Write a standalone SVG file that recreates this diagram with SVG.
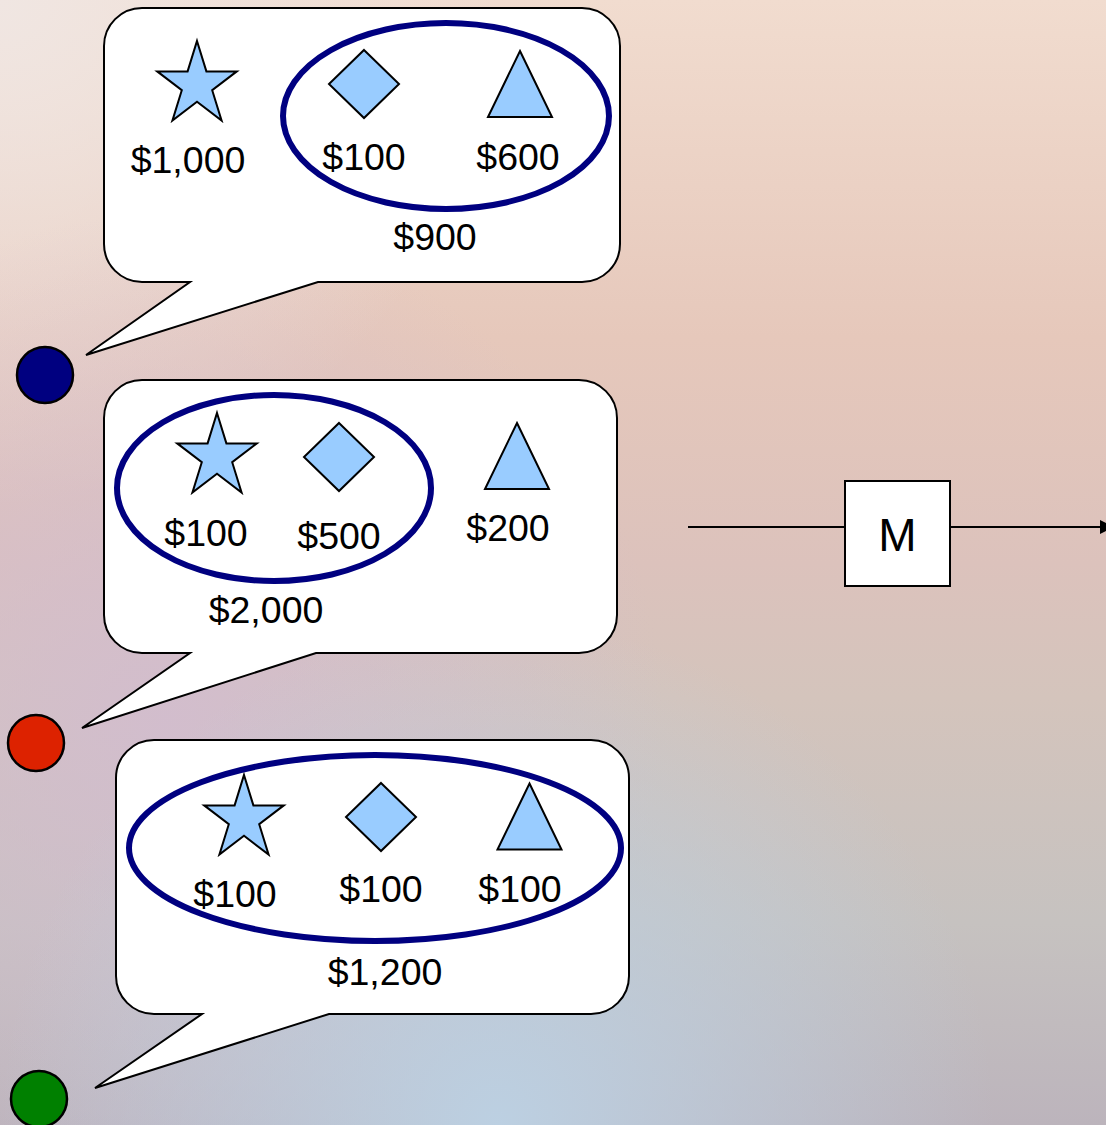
<svg xmlns="http://www.w3.org/2000/svg" width="1106" height="1125" viewBox="0 0 1106 1125">
  <defs>
    <linearGradient id="bgV" x1="0" y1="0" x2="0" y2="1">
      <stop offset="0" stop-color="#f1dccf"/>
      <stop offset="0.3" stop-color="#e6c8bb"/>
      <stop offset="0.5" stop-color="#dcc2bc"/>
      <stop offset="0.62" stop-color="#d4c4bc"/>
      <stop offset="0.82" stop-color="#c6c2c0"/>
      <stop offset="1" stop-color="#bcb4bc"/>
    </linearGradient>
    <radialGradient id="tintTL" cx="0" cy="0" r="0.45">
      <stop offset="0" stop-color="#f0e6e2" stop-opacity="1"/>
      <stop offset="1" stop-color="#f0e6e2" stop-opacity="0"/>
    </radialGradient>
    <radialGradient id="tintMid" cx="0.15" cy="0.64" r="0.45">
      <stop offset="0" stop-color="#d2bcd0" stop-opacity="0.85"/>
      <stop offset="1" stop-color="#d2bcd0" stop-opacity="0"/>
    </radialGradient>
    <radialGradient id="tintBL" cx="0.45" cy="1" r="0.45">
      <stop offset="0" stop-color="#bcd0e2" stop-opacity="1"/>
      <stop offset="1" stop-color="#bcd0e2" stop-opacity="0"/>
    </radialGradient>
    <path id="star" d="M0,-44 L9.4,-13.59 L39.8,-13.6 L15.2,5.19 L24.6,35.6 L0,16.8 L-24.6,35.6 L-15.2,5.19 L-39.8,-13.6 L-9.4,-13.59 Z"/>
    <path id="diamond" d="M0,-34 L35,0 L0,34 L-35,0 Z"/>
    <path id="triangle" d="M0,-33 L32,33 L-32,33 Z"/>
    <marker id="arrow" viewBox="0 0 10 10" refX="10" refY="5" markerWidth="7" markerHeight="7" markerUnits="strokeWidth" orient="auto">
      <path d="M0,0 L10,5 L0,10 Z" fill="#000"/>
    </marker>
    <style>
      .bubble { fill: #ffffff; stroke: #000000; stroke-width: 2; stroke-linejoin: miter; }
      .shape { fill: #99ccff; stroke: #000000; stroke-width: 2; stroke-linejoin: miter; }
      .group { fill: none; stroke: #000080; stroke-width: 6; }
      .label { font-family: "Liberation Sans", Arial, sans-serif; font-size: 37.5px; fill: #000; text-anchor: middle; }
      .dot { stroke: #000; stroke-width: 2.5; }
      .edge { stroke: #000; stroke-width: 2; fill: none; }
    </style>
  </defs>

  <!-- background -->
  <rect x="0" y="0" width="1106" height="1125" fill="url(#bgV)"/>
  <rect x="0" y="0" width="1106" height="1125" fill="url(#tintTL)"/>
  <rect x="0" y="0" width="1106" height="1125" fill="url(#tintMid)"/>
  <rect x="0" y="0" width="1106" height="1125" fill="url(#tintBL)"/>

  <!-- first speech bubble -->
  <g id="bubble-1">
    <path class="bubble" d="M142,8 H582 A38,38 0 0 1 620,46 V244 A38,38 0 0 1 582,282 H318 L86,355 L190,282 H142 A38,38 0 0 1 104,244 V46 A38,38 0 0 1 142,8 Z"/>
    <use href="#star" class="shape" transform="translate(197,85)"/>
    <use href="#diamond" class="shape" transform="translate(364,84)"/>
    <use href="#triangle" class="shape" transform="translate(520,84)"/>
    <ellipse class="group" cx="446" cy="116" rx="163" ry="93"/>
    <text class="label" x="188" y="173">$1,000</text>
    <text class="label" x="364" y="170">$100</text>
    <text class="label" x="518" y="170">$600</text>
    <text class="label" x="435" y="250">$900</text>
  </g>
  <g id="dot-1"><circle class="dot" cx="45" cy="375" r="28" fill="#000080"/></g>

  <!-- second speech bubble -->
  <g id="bubble-2">
    <path class="bubble" d="M142,380 H579 A38,38 0 0 1 617,418 V615 A38,38 0 0 1 579,653 H316 L82,728 L190,653 H142 A38,38 0 0 1 104,615 V418 A38,38 0 0 1 142,380 Z"/>
    <use href="#star" class="shape" transform="translate(217,457)"/>
    <use href="#diamond" class="shape" transform="translate(339,457)"/>
    <use href="#triangle" class="shape" transform="translate(517,456)"/>
    <ellipse class="group" cx="274" cy="488" rx="157" ry="93"/>
    <text class="label" x="206" y="546">$100</text>
    <text class="label" x="339" y="549">$500</text>
    <text class="label" x="508" y="541">$200</text>
    <text class="label" x="266" y="623">$2,000</text>
  </g>
  <g id="dot-2"><circle class="dot" cx="36" cy="743" r="28" fill="#dd2200"/></g>

  <!-- third speech bubble -->
  <g id="bubble-3">
    <path class="bubble" d="M154,740 H591 A38,38 0 0 1 629,778 V976 A38,38 0 0 1 591,1014 H329 L95,1088 L202,1014 H154 A38,38 0 0 1 116,976 V778 A38,38 0 0 1 154,740 Z"/>
    <use href="#star" class="shape" transform="translate(244,819)"/>
    <use href="#diamond" class="shape" transform="translate(381,817)"/>
    <use href="#triangle" class="shape" transform="translate(529.5,816.5)"/>
    <ellipse class="group" cx="375" cy="848" rx="246" ry="93"/>
    <text class="label" x="235" y="907">$100</text>
    <text class="label" x="381" y="902">$100</text>
    <text class="label" x="520" y="902">$100</text>
    <text class="label" x="385" y="985">$1,200</text>
  </g>
  <g id="dot-3"><circle class="dot" cx="39" cy="1099" r="28" fill="#008000"/></g>

  <!-- M block -->
  <g id="block-m">
    <rect x="845" y="481" width="105" height="105" fill="#ffffff" stroke="#000" stroke-width="2"/>
    <text x="897.5" y="551" font-family="Liberation Sans, Arial, sans-serif" font-size="46" text-anchor="middle" fill="#000">M</text>
  </g>

  <!-- connectors -->
  <g id="connectors">
    <line class="edge" x1="688" y1="527" x2="845" y2="527"/>
    <line class="edge" x1="950" y1="527" x2="1114" y2="527" marker-end="url(#arrow)"/>
  </g>
</svg>
